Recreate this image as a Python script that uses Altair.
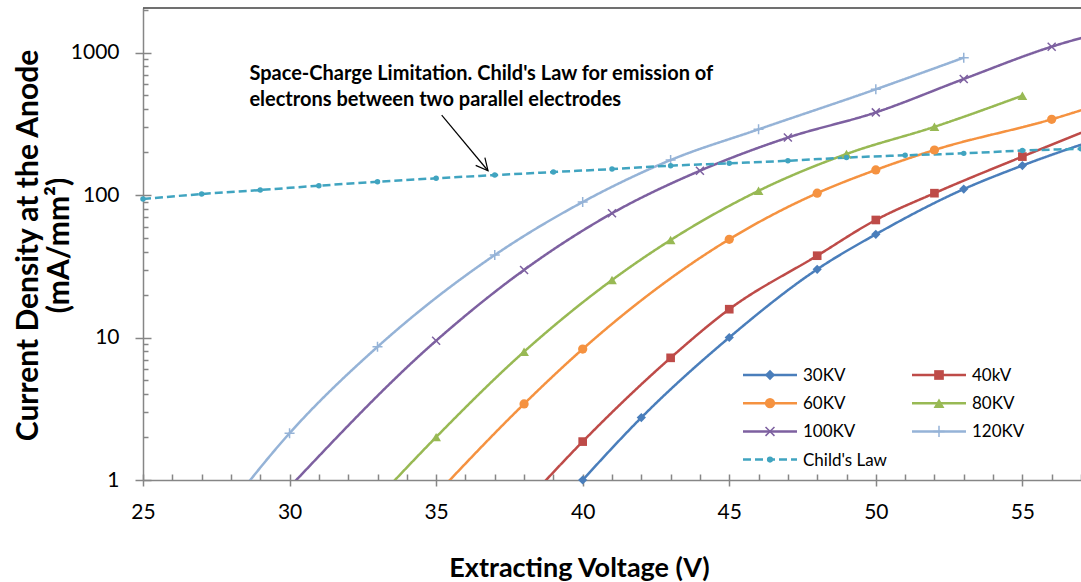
import altair as alt
import pandas as pd

# ---- data: extracting voltage (V) vs current density at the anode (mA/mm^2) ----
series_names = ["30KV", "40kV", "60KV", "80KV", "100KV", "120KV", "Child's Law"]
series_colors = ["#4a7ebb", "#be4b48", "#f59240", "#98b954", "#7d60a0", "#95b3d7", "#40a4c0"]

v_30kv = [40, 42, 45, 48, 50, 53, 55, 58]
j_30kv = [1.0, 2.74, 10.0, 30.1, 53.0, 110, 161, 264]

v_40kv = [38, 40, 43, 45, 48, 50, 52, 55, 58]
j_40kv = [0.68, 1.86, 7.2, 15.8, 37.5, 66.8, 103, 186, 330]

v_60kv = [35, 38, 40, 45, 48, 50, 52, 56, 58]
j_60kv = [0.79, 3.42, 8.3, 48.9, 103, 150, 207, 340, 457]

v_80kv = [33, 35, 38, 41, 43, 46, 49, 52, 55]
j_80kv = [0.74, 2.0, 7.95, 25.3, 48.3, 107, 194, 301, 498]

v_100kv = [30, 35, 38, 41, 44, 47, 50, 53, 56, 59]
j_100kv = [0.89, 9.5, 29.8, 74.4, 148, 253, 380, 652, 1099, 1600]

v_120kv = [27, 30, 33, 37, 40, 43, 46, 50, 53]
j_120kv = [0.36, 2.13, 8.6, 37.9, 89.3, 176, 289, 552, 920]

v_child = [25, 27, 29, 31, 33, 35, 37, 39, 41, 43, 45, 47, 49, 51, 53, 55, 57, 59]
j_child = [93.7, 101.6, 108.4, 116.2, 124, 131, 138, 145, 152, 160.7, 167, 174, 183, 190, 196, 205, 211, 218]

x_major_ticks = [25, 30, 35, 40, 45, 50, 55]
x_minor_ticks = list(range(25, 58))
y_major_ticks = [1, 10, 100, 1000]
y_minor_ticks = [2, 3, 4, 5, 6, 7, 8, 9, 20, 30, 40, 50, 60, 70, 80, 90,
                 200, 300, 400, 500, 600, 700, 800, 900, 2000]

note_lines = ["Space-Charge Limitation. Child's Law for emission of",
              "electrons between two parallel electrodes"]
note_anchor = {"v": [28.63], "j": [641]}
arrow_seg = {"v": [35.19], "j": [364], "v2": [36.77], "j2": [148]}

all_v = [v_30kv, v_40kv, v_60kv, v_80kv, v_100kv, v_120kv, v_child]
all_j = [j_30kv, j_40kv, j_60kv, j_80kv, j_100kv, j_120kv, j_child]

rows = []
for name, vs, js in zip(series_names, all_v, all_j):
    for v, j in zip(vs, js):
        rows.append({"series": name, "v": v, "j": j})
df = pd.DataFrame(rows)

# ---- styling ----
AX = "#868686"
FONT = "Lato"
W, H = 938, 472
x_scale = alt.Scale(domain=[25, 57], nice=False, zero=False)
y_scale = alt.Scale(type="log", domain=[1, 2053], nice=False)

x_axis_main = alt.Axis(
    values=x_major_ticks, format="d", tickSize=6, tickWidth=1.5, tickColor=AX,
    domainColor=AX, domainWidth=1.5, grid=False,
    labelFont=FONT, labelFontSize=21, labelColor="black", labelPadding=15,
    labelFlush=False, labelOverlap=False,
    title="Extracting Voltage (V)", titleFont=FONT, titleFontSize=27,
    titleFontWeight="bold", titleColor="black", titleX=436, titleY=96,
    titleBaseline="alphabetic", titleAlign="center",
)
y_axis_main = alt.Axis(
    values=y_major_ticks, format="d", tickSize=8, tickWidth=1.5, tickColor=AX,
    domainColor=AX, domainWidth=1.5, grid=False,
    labelFont=FONT, labelFontSize=21, labelColor="black", labelPadding=16,
    labelFlush=False, labelOverlap=False,
    title=["Current Density  at the Anode", "(mA/mm\u00b2)"], titleFont=FONT,
    titleFontSize=30, titleFontWeight="bold", titleColor="black",
    titleLineHeight=31, titleX=-106, titleY=237, titleAngle=270,
    titleAlign="center", titleBaseline="alphabetic",
)

color_scale = alt.Scale(domain=series_names, range=series_colors)
dash_scale = alt.Scale(domain=series_names, range=[[1, 0]] * 6 + [[8, 4]])

lines = alt.Chart(df).mark_line(interpolate="monotone", strokeWidth=2.5, clip=True).encode(
    x=alt.X("v:Q", scale=x_scale, axis=x_axis_main),
    y=alt.Y("j:Q", scale=y_scale, axis=y_axis_main),
    color=alt.Color("series:N", scale=color_scale, legend=None),
    strokeDash=alt.StrokeDash("series:N", scale=dash_scale, legend=None),
)

# markers for each series
marker_styles = {
    "30KV": dict(shape="diamond", size=85, filled=True),
    "40kV": dict(shape="square", size=75, filled=True),
    "60KV": dict(shape="circle", size=85, filled=True),
    "80KV": dict(shape="triangle-up", size=95, filled=True),
    "100KV": dict(shape="M-1,-1L1,1M-1,1L1,-1", size=64, filled=False, strokeWidth=1.5),
    "120KV": dict(shape="M0,-1L0,1M-1,0L1,0", size=100, filled=False, strokeWidth=1.5),
    "Child's Law": dict(shape="circle", size=30, filled=True),
}
point_layers = []
for name, color in zip(series_names, series_colors):
    point_layers.append(
        alt.Chart(df)
        .transform_filter(alt.datum.series == name)
        .transform_filter("datum.j >= 0.99 && datum.v <= 57.5")
        .mark_point(color=color, opacity=1, **marker_styles[name])
        .encode(
            x=alt.X("v:Q", scale=x_scale, axis=None),
            y=alt.Y("j:Q", scale=y_scale, axis=None),
        )
    )

# ---- legend box: two columns, line sample with marker and label ----
LEG_X0 = 600          # left edge of the first column's line sample (view pixels)
LEG_COL_STEP = 169    # distance between the two columns
LEG_Y0 = 367          # centre of the first row
LEG_ROW_STEP = 28.2
LEG_SAMPLE = 54       # length of the line sample
one_row = pd.DataFrame({"k": [0]})
legend_layers = []
for i, (name, color) in enumerate(zip(series_names, series_colors)):
    col, row = i % 2, i // 2
    x0 = LEG_X0 + col * LEG_COL_STEP
    yc = LEG_Y0 + row * LEG_ROW_STEP
    dash = [8, 4] if name == "Child's Law" else [1, 0]
    legend_layers.append(
        alt.Chart(one_row).mark_rule(color=color, strokeWidth=2.5, strokeDash=dash).encode(
            x=alt.value(x0), x2=alt.value(x0 + LEG_SAMPLE), y=alt.value(yc)
        )
    )
    style = dict(marker_styles[name])
    style["size"] = style["size"] * 1.25
    legend_layers.append(
        alt.Chart(one_row).mark_point(color=color, opacity=1, **style).encode(
            x=alt.value(x0 + LEG_SAMPLE / 2), y=alt.value(yc)
        )
    )
    legend_layers.append(
        alt.Chart(one_row).mark_text(
            text=name, align="left", baseline="middle", font=FONT, fontSize=17, color="black"
        ).encode(x=alt.value(x0 + LEG_SAMPLE + 6), y=alt.value(yc + 1))
    )

# inward ticks (minor and inner half of major)
def tick_layer(channel, values, size):
    common = dict(values=values, tickSize=size, offset=-size, domain=False, labels=False,
                  title=None, grid=False, tickColor=AX, tickWidth=1.5)
    if channel == "x":
        enc = dict(x=alt.X("v:Q", scale=x_scale, axis=alt.Axis(orient="bottom", **common)))
    else:
        enc = dict(y=alt.Y("j:Q", scale=y_scale, axis=alt.Axis(orient="left", **common)))
    return alt.Chart(df).transform_filter("false").mark_point().encode(**enc)

tick_layers = [
    tick_layer("x", x_minor_ticks, 6),
    tick_layer("y", y_minor_ticks, 5),
    tick_layer("y", y_major_ticks, 8),
]

# annotation text and arrow pointing to the Child's Law curve
note = alt.Chart(pd.DataFrame(note_anchor)).mark_text(
    text=note_lines, align="left", baseline="alphabetic", font=FONT, fontSize=20,
    fontWeight="bold", color="black", lineHeight=26,
).encode(
    x=alt.X("v:Q", scale=x_scale, axis=None),
    y=alt.Y("j:Q", scale=y_scale, axis=None),
)
arrow_df = pd.DataFrame(arrow_seg)
arrow_line = alt.Chart(arrow_df).mark_rule(color="black", strokeWidth=1.2).encode(
    x=alt.X("v:Q", scale=x_scale, axis=None),
    y=alt.Y("j:Q", scale=y_scale, axis=None),
    x2="v2:Q",
    y2="j2:Q",
)
arrow_head = alt.Chart(arrow_df).mark_point(
    shape="M-1,-0.5L0,0L-1,0.5", size=576, filled=False, color="black",
    strokeWidth=1.2, opacity=1, angle=50,
).encode(
    x=alt.X("v2:Q", scale=x_scale, axis=None),
    y=alt.Y("j2:Q", scale=y_scale, axis=None),
)

top_border = alt.Chart(one_row).mark_rule(color="#404040", strokeWidth=1.5).encode(
    x=alt.value(0), x2=alt.value(W), y=alt.value(0)
)

chart = alt.layer(
    lines, *point_layers, note, arrow_line, arrow_head, *legend_layers, *tick_layers, top_border
).resolve_axis(
    x="independent", y="independent"
).properties(
    width=W, height=H,
    padding={"left": 143, "top": 8, "right": 0, "bottom": 102},
    autosize=alt.AutoSizeParams(type="none"),
    background="white",
).configure_view(stroke=None)

chart.save("out.html", embed_options={"renderer": "svg", "actions": False})
